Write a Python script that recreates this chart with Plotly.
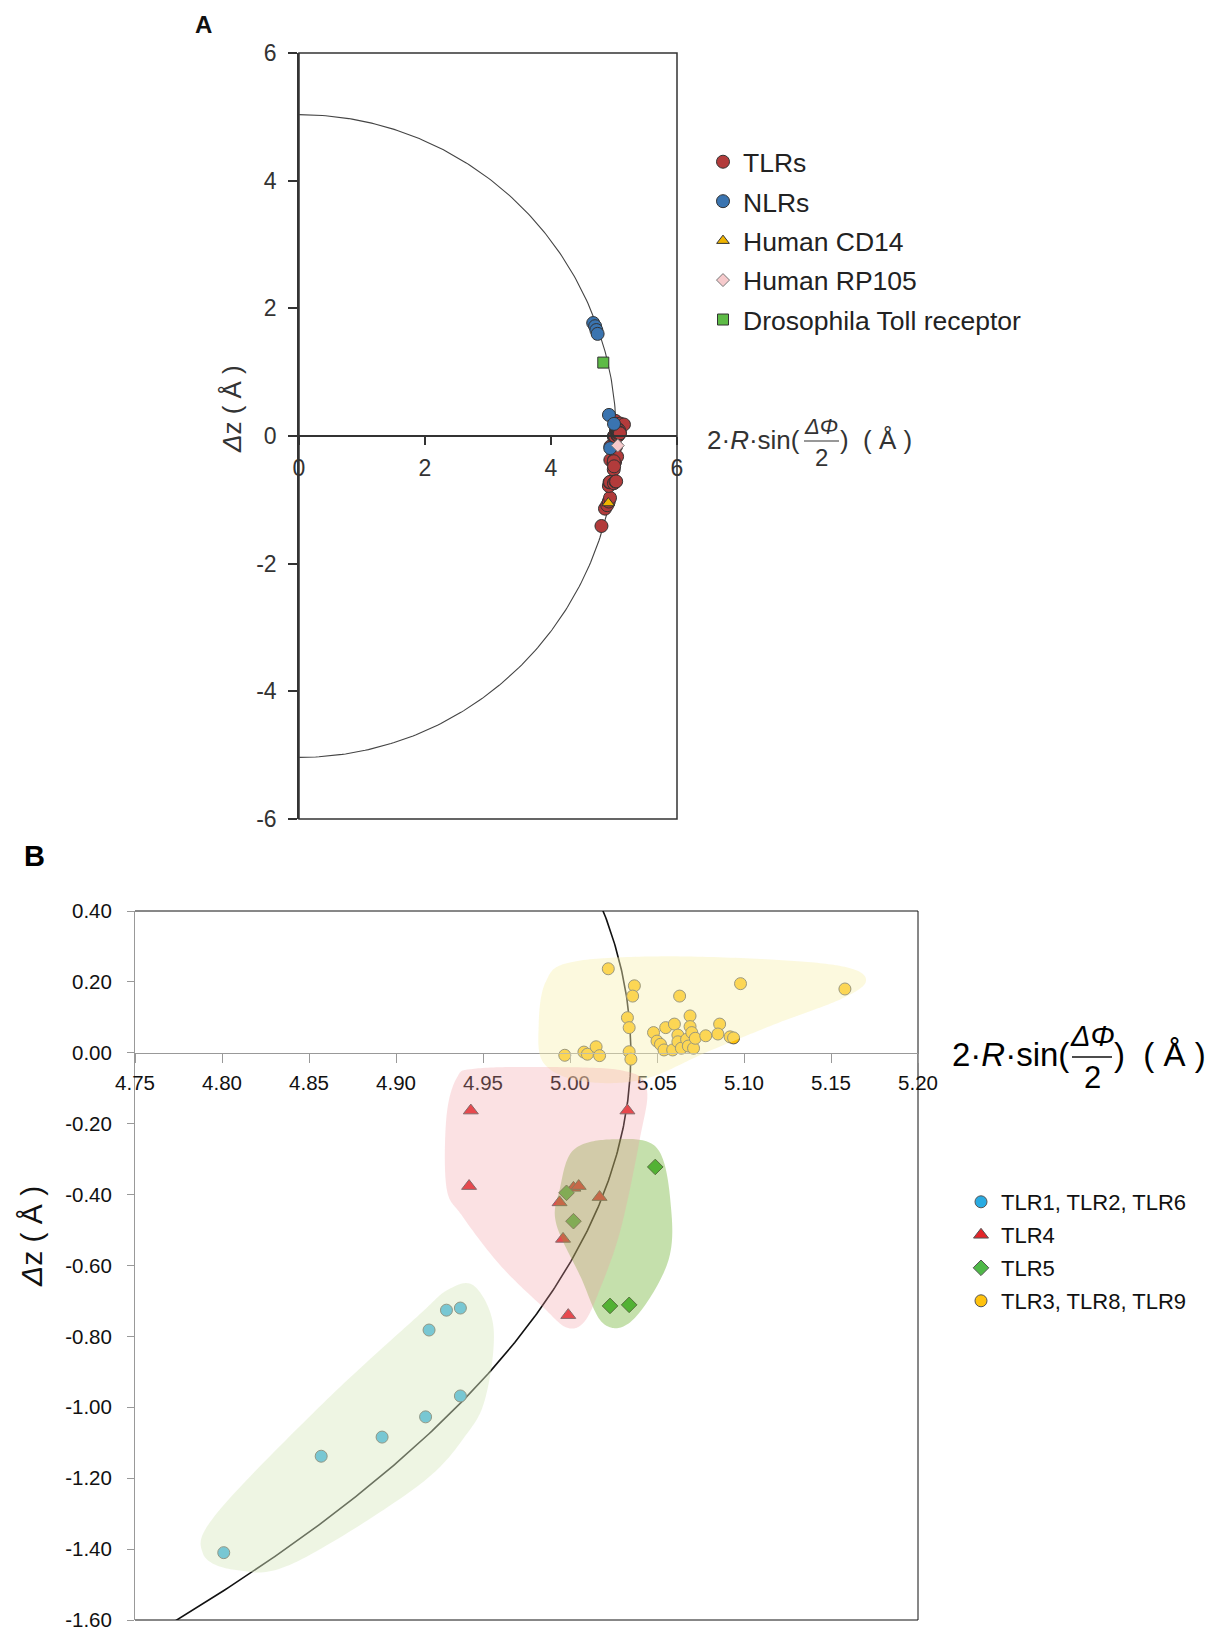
import numpy as np
import plotly.graph_objects as go

W, H = 1215, 1629
OFF = 8  # page body margin of the html page
R = 5.035  # radius of the reference circle (Å)

# ---------------- Panel B data ----------------
tlr126_x = [4.801, 4.857, 4.892, 4.917, 4.937, 4.919, 4.929, 4.937]
tlr126_y = [-1.410, -1.138, -1.084, -1.027, -0.968, -0.782, -0.726, -0.720]

tlr4_x = [4.943, 5.033, 4.942, 5.002, 5.005, 4.994, 5.017, 4.996, 4.999]
tlr4_y = [-0.163, -0.163, -0.376, -0.381, -0.376, -0.422, -0.407, -0.525, -0.740]

tlr5_x = [5.049, 4.998, 5.002, 5.023, 5.034]
tlr5_y = [-0.322, -0.395, -0.475, -0.714, -0.711]

tlr389_x = [5.022, 5.037, 5.036, 5.063, 5.098, 5.158, 5.033, 5.034, 5.034, 5.035,
            4.997, 5.008, 5.010, 5.015, 5.017, 5.048, 5.055, 5.060, 5.069, 5.050,
            5.052, 5.054, 5.059, 5.062, 5.062, 5.064, 5.067, 5.069, 5.070, 5.068,
            5.071, 5.072, 5.078, 5.086, 5.085, 5.092, 5.094]
tlr389_y = [0.237, 0.189, 0.160, 0.160, 0.195, 0.180, 0.099, 0.071, 0.003, -0.018,
            -0.007, 0.002, -0.004, 0.017, -0.008, 0.057, 0.071, 0.081, 0.104, 0.033,
            0.024, 0.008, 0.008, 0.050, 0.031, 0.013, 0.038, 0.074, 0.057, 0.019,
            0.013, 0.041, 0.048, 0.081, 0.053, 0.045, 0.042]

# cluster outlines (panel B)
blob389_x = [4.982, 4.986, 5.000, 5.050, 5.120, 5.160, 5.170, 5.155, 5.120, 5.080, 5.042, 5.007, 4.985]
blob389_y = [0.080, 0.200, 0.255, 0.272, 0.262, 0.240, 0.200, 0.150, 0.085, 0.005, -0.075, -0.080, -0.030]
blob4_x = [4.935, 4.929, 4.929, 4.938, 4.960, 4.985, 4.998, 5.008, 5.017, 5.029, 5.040, 5.044, 5.030, 4.985, 4.945]
blob4_y = [-0.070, -0.180, -0.380, -0.460, -0.600, -0.720, -0.775, -0.760, -0.669, -0.500, -0.246, -0.100, -0.050, -0.040, -0.045]
blob5_x = [5.002, 5.025, 5.050, 5.058, 5.056, 5.036, 5.019, 5.006, 4.992, 4.994]
blob5_y = [-0.274, -0.244, -0.269, -0.434, -0.594, -0.754, -0.763, -0.631, -0.481, -0.387]
blob126_x = [4.945, 4.956, 4.952, 4.941, 4.912, 4.841, 4.808, 4.789, 4.797, 4.858, 4.912, 4.930]
blob126_y = [-0.658, -0.773, -0.961, -1.073, -1.224, -1.440, -1.459, -1.412, -1.299, -0.989, -0.745, -0.668]

# ---------------- Panel A data ----------------
nlr_x = [4.67, 4.70, 4.72, 4.74, 4.92, 5.00, 4.94]
nlr_y = [1.77, 1.72, 1.66, 1.60, 0.33, 0.19, -0.19]
cd14_x, cd14_y = [4.91], [-1.05]
rp105_x, rp105_y = [5.06], [-0.15]
toll_x, toll_y = [4.83], [1.15]
tlr_all_x = tlr126_x + tlr4_x + tlr5_x + tlr389_x
tlr_all_y = tlr126_y + tlr4_y + tlr5_y + tlr389_y

a_ticks = [-6, -4, -2, 0, 2, 4, 6]
a_xticks = [0, 2, 4, 6]
b_xticks = [4.75, 4.80, 4.85, 4.90, 4.95, 5.00, 5.05, 5.10, 5.15, 5.20]
b_yticks = [-1.6, -1.4, -1.2, -1.0, -0.8, -0.6, -0.4, -0.2, 0.0, 0.2, 0.4]

FONT = "Liberation Sans, Arial, sans-serif"


def px(x):
    return (x - OFF) / W


def py(y):
    return 1 - (y - OFF) / H


def smooth_closed(xs, ys, n=24):
    P = np.column_stack([xs, ys])
    m = len(P)
    t = np.linspace(0, 1, n, endpoint=False)[:, None]
    out = []
    for i in range(m):
        p0, p1, p2, p3 = P[(i - 1) % m], P[i], P[(i + 1) % m], P[(i + 2) % m]
        pts = 0.5 * ((2 * p1) + (-p0 + p2) * t + (2 * p0 - 5 * p1 + 4 * p2 - p3) * t ** 2
                     + (-p0 + 3 * p1 - 3 * p2 + p3) * t ** 3)
        out.append(pts)
    pts = np.vstack(out)
    return "M " + " L ".join(f"{a:.5f},{b:.5f}" for a, b in pts) + " Z"


fig = go.Figure()

# ---- Panel A ----
th = np.linspace(np.pi / 2, -np.pi / 2, 300)
fig.add_trace(go.Scatter(x=R * np.cos(th), y=R * np.sin(th), mode="lines",
                         line=dict(color="#444", width=1.1), showlegend=False,
                         xaxis="x", yaxis="y", hoverinfo="skip"))
lineA = dict(color="#333", width=1)
fig.add_trace(go.Scatter(x=tlr_all_x, y=tlr_all_y, mode="markers", name="TLRs",
                         marker=dict(symbol="circle", size=13, color="#b23b3b", line=lineA),
                         xaxis="x", yaxis="y", legend="legend", legendgroup="a1"))
fig.add_trace(go.Scatter(x=nlr_x, y=nlr_y, mode="markers", name="NLRs",
                         marker=dict(symbol="circle", size=13, color="#3a74b0", line=lineA),
                         xaxis="x", yaxis="y", legend="legend", legendgroup="a2"))
fig.add_trace(go.Scatter(x=cd14_x, y=cd14_y, mode="markers", name="Human CD14",
                         marker=dict(symbol="triangle-up", size=11, color="#f0b400", line=lineA),
                         xaxis="x", yaxis="y", legend="legend", legendgroup="a3"))
fig.add_trace(go.Scatter(x=rp105_x, y=rp105_y, mode="markers", name="Human RP105",
                         marker=dict(symbol="diamond", size=10, color="#f6cacc",
                                     line=dict(color="#777", width=1)),
                         xaxis="x", yaxis="y", legend="legend", legendgroup="a4"))
fig.add_trace(go.Scatter(x=toll_x, y=toll_y, mode="markers", name="Drosophila Toll receptor",
                         marker=dict(symbol="square", size=11, color="#5dbb46", line=lineA),
                         xaxis="x", yaxis="y", legend="legend", legendgroup="a5"))

# ---- Panel B ----
yy = np.linspace(-1.7, 0.5, 300)
fig.add_trace(go.Scatter(x=np.sqrt(R ** 2 - yy ** 2), y=yy, mode="lines",
                         line=dict(color="#111", width=1.6), showlegend=False,
                         xaxis="x2", yaxis="y2", hoverinfo="skip"))
lineB = dict(color="#555", width=1)
fig.add_trace(go.Scatter(x=tlr126_x, y=tlr126_y, mode="markers", name="TLR1, TLR2, TLR6",
                         marker=dict(symbol="circle", size=12, color="#29abe2", line=lineB),
                         xaxis="x2", yaxis="y2", legend="legend2", legendgroup="b1"))
fig.add_trace(go.Scatter(x=tlr4_x, y=tlr4_y, mode="markers", name="TLR4",
                         marker=dict(symbol="triangle-up", size=13, color="#e3262a", line=lineB),
                         xaxis="x2", yaxis="y2", legend="legend2", legendgroup="b2"))
fig.add_trace(go.Scatter(x=tlr5_x, y=tlr5_y, mode="markers", name="TLR5",
                         marker=dict(symbol="diamond", size=12, color="#4fb848", line=lineB),
                         xaxis="x2", yaxis="y2", legend="legend2", legendgroup="b3"))
fig.add_trace(go.Scatter(x=tlr389_x, y=tlr389_y, mode="markers", name="TLR3, TLR8, TLR9",
                         marker=dict(symbol="circle", size=12, color="#ffc20e", line=lineB),
                         xaxis="x2", yaxis="y2", legend="legend2", legendgroup="b4"))

shapes = []
# panel A box
shapes.append(dict(type="rect", xref="x domain", yref="y domain", x0=0, x1=1, y0=0, y1=1,
                   line=dict(color="#333", width=1.5), layer="below"))
# panel B box (top, right, bottom in black)
for (x0, y0, x1, y1) in [(0, 1, 1, 1), (1, 0, 1, 1), (0, 0, 1, 0)]:
    shapes.append(dict(type="line", xref="x2 domain", yref="y2 domain", x0=x0, y0=y0, x1=x1, y1=y1,
                       line=dict(color="#111", width=1), layer="below"))
# cluster blobs drawn above the markers
for bx, by, col in [(blob389_x, blob389_y, "rgba(249,240,179,0.43)"),
                    (blob5_x, blob5_y, "rgba(89,166,18,0.35)"),
                    (blob4_x, blob4_y, "rgba(242,155,162,0.30)"),
                    (blob126_x, blob126_y, "rgba(217,233,193,0.45)")]:
    shapes.append(dict(type="path", xref="x2", yref="y2", path=smooth_closed(bx, by),
                       fillcolor=col, line=dict(width=0), layer="above"))
# fraction bars of the x-axis titles
shapes.append(dict(type="line", xref="paper", yref="paper", x0=px(804), x1=px(839), y0=py(441), y1=py(441),
                   line=dict(color="#333", width=1.2)))
shapes.append(dict(type="line", xref="paper", yref="paper", x0=px(1072), x1=px(1112), y0=py(1057), y1=py(1057),
                   line=dict(color="#111", width=1.6)))

ann = []


def add_text(text, x, y, size, color="#333", xanchor="center", angle=0, bold=False):
    ann.append(dict(text=(f"<b>{text}</b>" if bold else text), x=px(x), y=py(y), xref="paper", yref="paper",
                    xanchor=xanchor, yanchor="middle", showarrow=False, textangle=angle,
                    font=dict(family=FONT, size=size, color=color)))


add_text("A", 203, 25, 24, "#111", bold=True)
add_text("B", 34, 856, 29, "#000", bold=True)
add_text("<i>Δ</i>z ( Å )", 232, 409, 26, "#333", angle=-90)
add_text("<i>Δ</i>z ( Å )", 31, 1237, 30, "#111", angle=-90)
# panel A x title
add_text("2·<i>R</i>·sin(", 802, 440, 26, "#333", xanchor="right")
add_text("<i>ΔΦ</i>", 821, 426, 22, "#333")
add_text("2", 821, 457, 24, "#333")
add_text(")  ( Å )", 838, 440, 26, "#333", xanchor="left")
# panel B x title
add_text("2·<i>R</i>·sin(", 1071, 1054, 33, "#000", xanchor="right")
add_text("<i>ΔΦ</i>", 1092, 1036, 29, "#000")
add_text("2", 1092, 1077, 31, "#000")
add_text(")  ( Å )", 1112, 1054, 33, "#000", xanchor="left")

fig.update_layout(
    width=W, height=H, margin=dict(l=0, r=0, t=0, b=0, autoexpand=False),
    paper_bgcolor="white", plot_bgcolor="rgba(0,0,0,0)",
    font=dict(family=FONT, color="#333"),
    showlegend=True,
    shapes=shapes, annotations=ann,
    xaxis=dict(domain=[px(299), px(677)], range=[0, 6], anchor="free", position=py(436),
               tickvals=a_xticks, ticktext=[str(v) for v in a_xticks], automargin=False,
               ticks="outside", ticklen=8, tickwidth=1.5, tickcolor="#333",
               showline=True, linecolor="#333", linewidth=1.5, showgrid=False, zeroline=False,
               tickfont=dict(size=23, color="#333", family=FONT), ticklabelstandoff=4),
    yaxis=dict(domain=[py(819), py(53)], range=[-6, 6], anchor="x", automargin=False,
               tickvals=a_ticks, ticktext=[str(v) for v in a_ticks],
               ticks="outside", ticklen=9, tickwidth=1.5, tickcolor="#333",
               showline=True, linecolor="#333", linewidth=1.5, showgrid=False, zeroline=False,
               tickfont=dict(size=23, color="#333", family=FONT), ticklabelstandoff=7),
    xaxis2=dict(domain=[px(135), px(918)], range=[4.75, 5.20], anchor="free", position=py(1053),
                tickvals=b_xticks, ticktext=[f"{v:.2f}" for v in b_xticks], automargin=False,
                ticks="outside", ticklen=9, tickwidth=1, tickcolor="#999",
                showline=True, linecolor="#999", linewidth=1, showgrid=False, zeroline=False,
                tickfont=dict(size=20.5, color="#111", family=FONT), ticklabelstandoff=2),
    yaxis2=dict(domain=[py(1620), py(911)], range=[-1.6, 0.4], anchor="x2", automargin=False,
                tickvals=b_yticks, ticktext=[f"{v:.2f}" for v in b_yticks],
                ticks="outside", ticklen=7, tickwidth=1, tickcolor="#999",
                showline=True, linecolor="#999", linewidth=1, showgrid=False, zeroline=False,
                tickfont=dict(size=20.5, color="#111", family=FONT), ticklabelstandoff=11),
    legend=dict(x=px(703), y=py(138), xanchor="left", yanchor="top", traceorder="grouped",
                tracegroupgap=2, bgcolor="rgba(0,0,0,0)",
                font=dict(size=26.5, color="#222", family=FONT)),
    legend2=dict(x=px(961), y=py(1181), xanchor="left", yanchor="top", traceorder="grouped",
                 tracegroupgap=1.4, bgcolor="rgba(0,0,0,0)",
                 font=dict(size=22, color="#111", family=FONT)),
)

fig.write_html("out.html")
